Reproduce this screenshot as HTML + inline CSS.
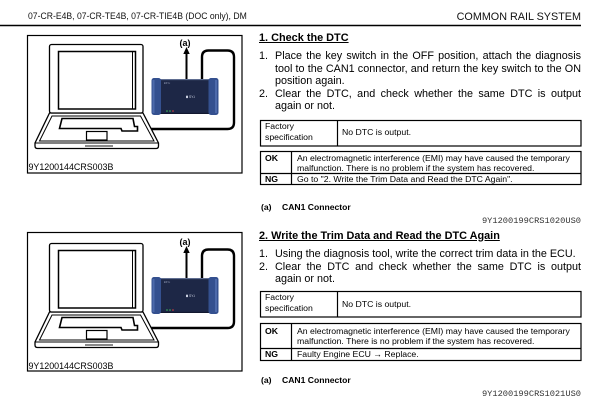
<!DOCTYPE html>
<html>
<head>
<meta charset="utf-8">
<style>
  html,body{margin:0;padding:0;background:#fff;}
  body{width:602px;height:404px;position:relative;overflow:hidden;font-family:"Liberation Sans",Arial,sans-serif;color:#000;}
  .t{position:absolute;white-space:nowrap;}
  .body{font-size:10.8px;line-height:12.6px;}
  .j{text-align:justify;text-align-last:justify;width:306px;}
  .h{font-size:10.9px;line-height:11.5px;font-weight:bold;text-decoration:underline;text-underline-offset:1px;}
  .sm{font-size:8.7px;}
  .b{font-weight:bold;}
  .code{font-family:"Liberation Mono",monospace;font-size:8.7px;line-height:10px;color:#333;text-align:right;width:200px;left:381px;}
</style>
</head>
<body>

<svg width="602" height="404" style="position:absolute;left:0;top:0" xmlns="http://www.w3.org/2000/svg">
  <line x1="0" y1="25.5" x2="581" y2="25.5" stroke="#000" stroke-width="1.5"/>

  <rect x="27.5" y="35.5" width="214.5" height="137.5" fill="none" stroke="#000" stroke-width="1.2"/>
  <rect x="27.5" y="232.5" width="214.5" height="138.5" fill="none" stroke="#000" stroke-width="1.2"/>

  <rect x="260.5" y="120.5" width="320.5" height="25.5" fill="none" stroke="#000" stroke-width="1.2"/>
  <line x1="337.5" y1="120.5" x2="337.5" y2="146" stroke="#000" stroke-width="1.2"/>
  <rect x="260.5" y="151.5" width="320.5" height="33" fill="none" stroke="#000" stroke-width="1.2"/>
  <line x1="260.5" y1="173.5" x2="581" y2="173.5" stroke="#000" stroke-width="1.2"/>
  <line x1="291.5" y1="151.5" x2="291.5" y2="184.5" stroke="#000" stroke-width="1.2"/>

  <rect x="260.5" y="291.5" width="320.5" height="25.5" fill="none" stroke="#000" stroke-width="1.2"/>
  <line x1="337.5" y1="291.5" x2="337.5" y2="317" stroke="#000" stroke-width="1.2"/>
  <rect x="260.5" y="323.5" width="320.5" height="37" fill="none" stroke="#000" stroke-width="1.2"/>
  <line x1="260.5" y1="348.5" x2="581" y2="348.5" stroke="#000" stroke-width="1.2"/>
  <line x1="291.5" y1="323.5" x2="291.5" y2="360.5" stroke="#000" stroke-width="1.2"/>

  <g>
    <path d="M202,80 L202,57 Q202,50.5 208.5,50.5 L227.5,50.5 Q234,50.5 234,57 L234,122.5 Q234,129 227.5,129 L151,129" fill="none" stroke="#000" stroke-width="2.4"/>
    <line x1="186.5" y1="80" x2="186.5" y2="53" stroke="#000" stroke-width="2"/>
    <polygon points="186.5,47 183.3,54 189.7,54" fill="#000"/>
    <path d="M49.5,113 L143,113 L158.5,143 L158.5,146 Q158.5,148.5 156,148.5 L37.5,148.5 Q35,148.5 35,146 L35,143 Z" fill="#fff" stroke="#000" stroke-width="1.3"/>
    <line x1="35" y1="143" x2="158.5" y2="143" stroke="#000" stroke-width="1"/>
    <path d="M52,116 L140.5,116 L154,141 L39.5,141 Z" fill="none" stroke="#000" stroke-width="1"/>
    <polygon points="62,118.5 133,118.5 134.5,126.5 137.5,126.5 137.5,131 122,131 121,128.5 59.5,128.5" fill="none" stroke="#000" stroke-width="1.6"/>
    <rect x="86.5" y="131.5" width="20.5" height="8.5" fill="#fff" stroke="#000" stroke-width="1.2"/>
    <line x1="85" y1="146" x2="113" y2="146" stroke="#8a8a8a" stroke-width="2"/>
    <rect x="49.5" y="44.5" width="93.5" height="68.5" rx="2" fill="#fff" stroke="#000" stroke-width="1.3"/>
    <rect x="58.5" y="51.5" width="77" height="57.5" fill="none" stroke="#000" stroke-width="1.5"/>
    <line x1="132.5" y1="51.5" x2="132.5" y2="109" stroke="#000" stroke-width="1"/>
    <rect x="154" y="79" width="62" height="35" fill="#1d2746"/>
    <line x1="160" y1="79.6" x2="209" y2="79.6" stroke="#6a789c" stroke-width="1"/>
    <line x1="160" y1="113.4" x2="209" y2="113.4" stroke="#10172c" stroke-width="1"/>
    <rect x="151.5" y="78" width="9.5" height="37" rx="2.5" fill="#34508f"/>
    <rect x="152.5" y="80" width="2" height="33" fill="#4d6aab"/>
    <rect x="208.5" y="78" width="10" height="37" rx="2.5" fill="#34508f"/>
    <rect x="215" y="80" width="2" height="33" fill="#4d6aab"/>
    <text x="164" y="84" font-family="Liberation Sans, sans-serif" font-size="2.5" fill="#9aa3bd">ESY-i</text>
    <text x="189" y="98" font-family="Liberation Sans, sans-serif" font-size="3.4" fill="#c9cfe0">SY-i</text>
    <rect x="186" y="95.7" width="2" height="2.4" fill="#c9cfe0"/>
    <circle cx="167" cy="111" r="0.8" fill="#3fbf5a"/>
    <circle cx="170" cy="111" r="0.8" fill="#3fbf5a"/>
    <circle cx="173" cy="111" r="0.8" fill="#e04040"/>
  </g>

  <g transform="translate(0,199)">
    <path d="M202,80 L202,57 Q202,50.5 208.5,50.5 L227.5,50.5 Q234,50.5 234,57 L234,122.5 Q234,129 227.5,129 L151,129" fill="none" stroke="#000" stroke-width="2.4"/>
    <line x1="186.5" y1="80" x2="186.5" y2="53" stroke="#000" stroke-width="2"/>
    <polygon points="186.5,47 183.3,54 189.7,54" fill="#000"/>
    <path d="M49.5,113 L143,113 L158.5,143 L158.5,146 Q158.5,148.5 156,148.5 L37.5,148.5 Q35,148.5 35,146 L35,143 Z" fill="#fff" stroke="#000" stroke-width="1.3"/>
    <line x1="35" y1="143" x2="158.5" y2="143" stroke="#000" stroke-width="1"/>
    <path d="M52,116 L140.5,116 L154,141 L39.5,141 Z" fill="none" stroke="#000" stroke-width="1"/>
    <polygon points="62,118.5 133,118.5 134.5,126.5 137.5,126.5 137.5,131 122,131 121,128.5 59.5,128.5" fill="none" stroke="#000" stroke-width="1.6"/>
    <rect x="86.5" y="131.5" width="20.5" height="8.5" fill="#fff" stroke="#000" stroke-width="1.2"/>
    <line x1="85" y1="146" x2="113" y2="146" stroke="#8a8a8a" stroke-width="2"/>
    <rect x="49.5" y="44.5" width="93.5" height="68.5" rx="2" fill="#fff" stroke="#000" stroke-width="1.3"/>
    <rect x="58.5" y="51.5" width="77" height="57.5" fill="none" stroke="#000" stroke-width="1.5"/>
    <line x1="132.5" y1="51.5" x2="132.5" y2="109" stroke="#000" stroke-width="1"/>
    <rect x="154" y="79" width="62" height="35" fill="#1d2746"/>
    <line x1="160" y1="79.6" x2="209" y2="79.6" stroke="#6a789c" stroke-width="1"/>
    <line x1="160" y1="113.4" x2="209" y2="113.4" stroke="#10172c" stroke-width="1"/>
    <rect x="151.5" y="78" width="9.5" height="37" rx="2.5" fill="#34508f"/>
    <rect x="152.5" y="80" width="2" height="33" fill="#4d6aab"/>
    <rect x="208.5" y="78" width="10" height="37" rx="2.5" fill="#34508f"/>
    <rect x="215" y="80" width="2" height="33" fill="#4d6aab"/>
    <text x="164" y="84" font-family="Liberation Sans, sans-serif" font-size="2.5" fill="#9aa3bd">ESY-i</text>
    <text x="189" y="98" font-family="Liberation Sans, sans-serif" font-size="3.4" fill="#c9cfe0">SY-i</text>
    <rect x="186" y="95.7" width="2" height="2.4" fill="#c9cfe0"/>
    <circle cx="167" cy="111" r="0.8" fill="#3fbf5a"/>
    <circle cx="170" cy="111" r="0.8" fill="#3fbf5a"/>
    <circle cx="173" cy="111" r="0.8" fill="#e04040"/>
  </g>
</svg>

<div class="t" style="left:28px;top:11px;font-size:9.6px;line-height:12px;transform:scaleX(0.9);transform-origin:0 0;color:#111;">07-CR-E4B, 07-CR-TE4B, 07-CR-TIE4B (DOC only), DM</div>
<div class="t" style="left:300px;top:11px;width:281px;text-align:right;font-size:10.8px;line-height:12px;color:#111;">COMMON RAIL SYSTEM</div>

<div class="t b" style="left:179.5px;top:38px;font-size:9px;line-height:10px;">(a)</div>
<div class="t" style="left:28.5px;top:162px;font-size:8.9px;line-height:10px;">9Y1200144CRS003B</div>
<div class="t b" style="left:179.5px;top:237px;font-size:9px;line-height:10px;">(a)</div>
<div class="t" style="left:28.5px;top:361px;font-size:8.9px;line-height:10px;">9Y1200144CRS003B</div>

<!-- Section 1 -->
<div class="t h" style="left:259px;top:32.5px;">1. Check the DTC</div>
<div class="t body" style="left:259px;top:50px;">1.</div>
<div class="t body j" style="left:275px;top:50px;">Place the key switch in the OFF position, attach the diagnosis</div>
<div class="t body j" style="left:275px;top:62.6px;">tool to the CAN1 connector, and return the key switch to the ON</div>
<div class="t body" style="left:275px;top:75.2px;">position again.</div>
<div class="t body" style="left:259px;top:87.8px;">2.</div>
<div class="t body j" style="left:275px;top:87.8px;">Clear the DTC, and check whether the same DTC is output</div>
<div class="t body" style="left:275px;top:100.4px;">again or not.</div>

<div class="t sm" style="left:265px;top:121.3px;line-height:10.3px;">Factory<br>specification</div>
<div class="t sm" style="left:342px;top:128.3px;line-height:9.5px;">No DTC is output.</div>

<div class="t sm b" style="left:265px;top:154px;line-height:9.8px;">OK</div>
<div class="t sm" style="left:297px;top:154px;line-height:9.8px;">An electromagnetic interference (EMI) may have caused the temporary<br>malfunction. There is no problem if the system has recovered.</div>
<div class="t sm b" style="left:265px;top:174.6px;line-height:9px;">NG</div>
<div class="t sm" style="left:297px;top:174.6px;line-height:9px;">Go to "2. Write the Trim Data and Read the DTC Again".</div>

<div class="t b" style="left:261px;top:202px;font-size:8.6px;line-height:10px;">(a)</div>
<div class="t b" style="left:282px;top:202px;font-size:8.6px;line-height:10px;">CAN1 Connector</div>
<div class="t code" style="top:216.4px;">9Y1200199CRS1020US0</div>

<!-- Section 2 -->
<div class="t h" style="left:259px;top:230.5px;">2. Write the Trim Data and Read the DTC Again</div>
<div class="t body" style="left:259px;top:248px;">1.</div>
<div class="t body" style="left:275px;top:248px;">Using the diagnosis tool, write the correct trim data in the ECU.</div>
<div class="t body" style="left:259px;top:260.6px;">2.</div>
<div class="t body j" style="left:275px;top:260.6px;">Clear the DTC and check whether the same DTC is output</div>
<div class="t body" style="left:275px;top:273.2px;">again or not.</div>

<div class="t sm" style="left:265px;top:292.3px;line-height:10.3px;">Factory<br>specification</div>
<div class="t sm" style="left:342px;top:299.5px;line-height:9.5px;">No DTC is output.</div>

<div class="t sm b" style="left:265px;top:325.5px;line-height:10px;">OK</div>
<div class="t sm" style="left:297px;top:325.5px;line-height:10px;">An electromagnetic interference (EMI) may have caused the temporary<br>malfunction. There is no problem if the system has recovered.</div>
<div class="t sm b" style="left:265px;top:349.8px;line-height:9.5px;">NG</div>
<div class="t sm" style="left:297px;top:349.8px;line-height:9.5px;">Faulty Engine ECU → Replace.</div>

<div class="t b" style="left:261px;top:375px;font-size:8.6px;line-height:10px;">(a)</div>
<div class="t b" style="left:282px;top:375px;font-size:8.6px;line-height:10px;">CAN1 Connector</div>
<div class="t code" style="top:389.4px;">9Y1200199CRS1021US0</div>

</body>
</html>
